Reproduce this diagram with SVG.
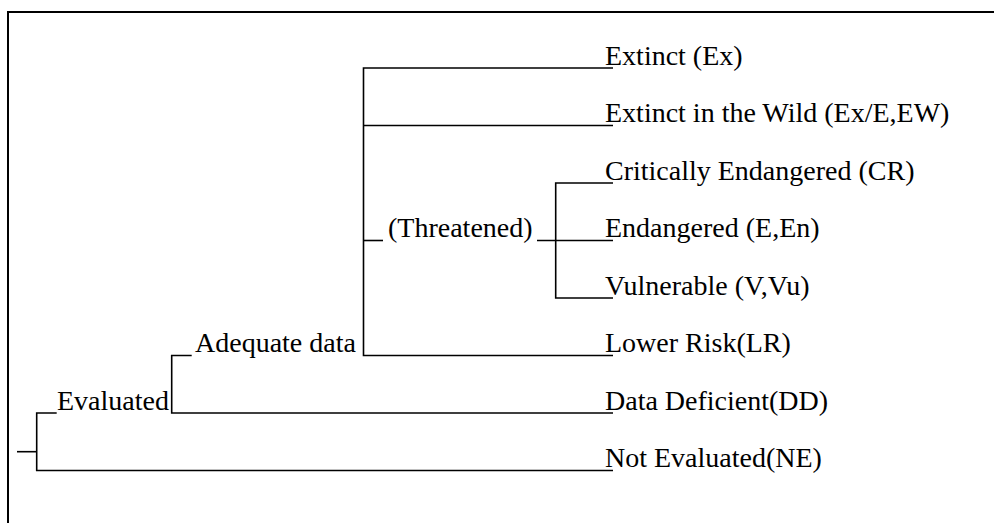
<svg xmlns="http://www.w3.org/2000/svg" width="994" height="523" viewBox="0 0 994 523">
  <style>
    .frame { fill: none; stroke: #000; stroke-width: 2; }
    .edge { fill: none; stroke: #000; stroke-width: 1.6; }
    .label { font-family: "Liberation Serif", "Times New Roman", serif; font-size: 28px; fill: #000; }
  </style>
  <rect width="994" height="523" fill="#fff"/>
  <!-- outer frame: top and left edges only -->
  <path class="frame" d="M8 523 V12 H994"/>

  <g id="connectors">
    <!-- root bracket -->
    <path class="edge" d="M17 451.7 H36.7"/>
    <path class="edge" d="M56.7 413 H36.7 V470.5 H613"/>
    <!-- Evaluated bracket -->
    <path class="edge" d="M191.7 355.5 H171.7 V413 H613"/>
    <!-- Adequate data bracket -->
    <path class="edge" d="M613 68 H363.5 V355.5 H613"/>
    <path class="edge" d="M363.5 125.5 H613"/>
    <path class="edge" d="M363.5 240.5 H383"/>
    <!-- Threatened bracket -->
    <path class="edge" d="M537 240.5 H613"/>
    <path class="edge" d="M613 183 H555.7 V298 H613"/>
  </g>

  <g id="node-evaluated"><text class="label" x="57" y="409.5">Evaluated</text></g>
  <g id="node-adequate"><text class="label" x="195" y="352">Adequate data</text></g>
  <g id="node-threatened"><text class="label" x="388" y="236.5">(Threatened)</text></g>

  <g id="node-ex"><text class="label" x="605" y="64.5">Extinct (Ex)</text></g>
  <g id="node-ew"><text class="label" x="605" y="122">Extinct in the Wild (Ex/E,EW)</text></g>
  <g id="node-cr"><text class="label" x="605" y="179.5">Critically Endangered (CR)</text></g>
  <g id="node-en"><text class="label" x="605" y="237">Endangered (E,En)</text></g>
  <g id="node-vu"><text class="label" x="605" y="294.5">Vulnerable (V,Vu)</text></g>
  <g id="node-lr"><text class="label" x="605" y="352">Lower Risk(LR)</text></g>
  <g id="node-dd"><text class="label" x="605" y="409.5">Data Deficient(DD)</text></g>
  <g id="node-ne"><text class="label" x="605" y="467">Not Evaluated(NE)</text></g>
</svg>
